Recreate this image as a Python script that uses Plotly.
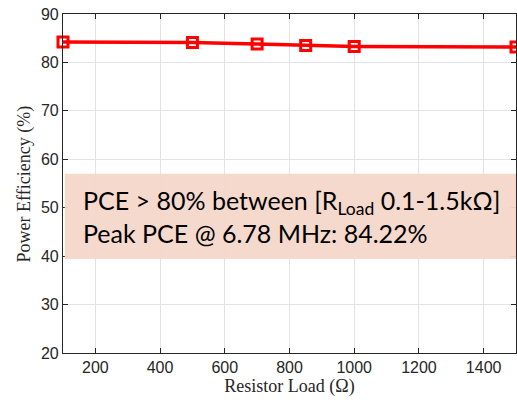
import plotly.graph_objects as go

resistor_load = [100, 500, 700, 850, 1000, 1500]
efficiency = [84.22, 84.1, 83.8, 83.5, 83.3, 83.2]
x_ticks = [200, 400, 600, 800, 1000, 1200, 1400]
y_ticks = [20, 30, 40, 50, 60, 70, 80, 90]
box_y = [39.4, 57.0]

title_font = dict(family="Liberation Serif, Times New Roman, serif", size=18, color="#262626")

fig = go.Figure()
fig.add_trace(go.Scatter(
    x=resistor_load, y=efficiency, mode="lines+markers",
    line=dict(color="#ff0000", width=3.5),
    marker=dict(symbol="square-open", size=10, color="#ff0000", line=dict(width=3, color="#ff0000")),
    cliponaxis=False, showlegend=False,
))

fig.add_shape(type="rect", xref="paper", yref="y", x0=0.004, x1=1.0, y0=box_y[0], y1=box_y[1],
              fillcolor="rgba(246,215,202,0.95)", line=dict(width=0), layer="above")
fig.add_annotation(
    xref="paper", yref="y", x=0.040, y=(box_y[0] + box_y[1]) / 2 - 0.1,
    xanchor="left", yanchor="middle", align="left", showarrow=False,
    text="PCE > 80% between [R<sub>Load</sub> 0.1-1.5kΩ]<br>Peak PCE @ 6.78 MHz: 84.22%",
    font=dict(family="Lato, Open Sans, sans-serif", size=25, color="#000000"),
)
fig.add_annotation(
    xref="paper", yref="paper", x=-0.084, y=0.5, xanchor="center", yanchor="middle",
    textangle=-90, showarrow=False, text="Power Efficiency (%)", font=title_font,
)

axis_common = dict(
    showline=True, linecolor="#262626", linewidth=1.2, mirror="ticks",
    ticks="inside", ticklen=5, tickcolor="#262626", automargin=False,
    showgrid=True, gridcolor="#e3e3e3", gridwidth=1, zeroline=False,
    tickfont=dict(family="Liberation Sans, Arial, sans-serif", size=16, color="#262626"),
)
fig.update_xaxes(range=[100, 1500], tickvals=x_ticks,
                 title=dict(text="Resistor Load (Ω)", standoff=0, font=title_font),
                 **axis_common)
fig.update_yaxes(range=[20, 90], tickvals=y_ticks, **axis_common)

fig.update_layout(
    width=517, height=403,
    margin=dict(l=63, r=1, t=14, b=50),
    plot_bgcolor="white", paper_bgcolor="white",
)
fig.write_html("out.html", config={"displayModeBar": False},
               post_script="document.body.style.margin='0';document.body.style.overflow='hidden';")
